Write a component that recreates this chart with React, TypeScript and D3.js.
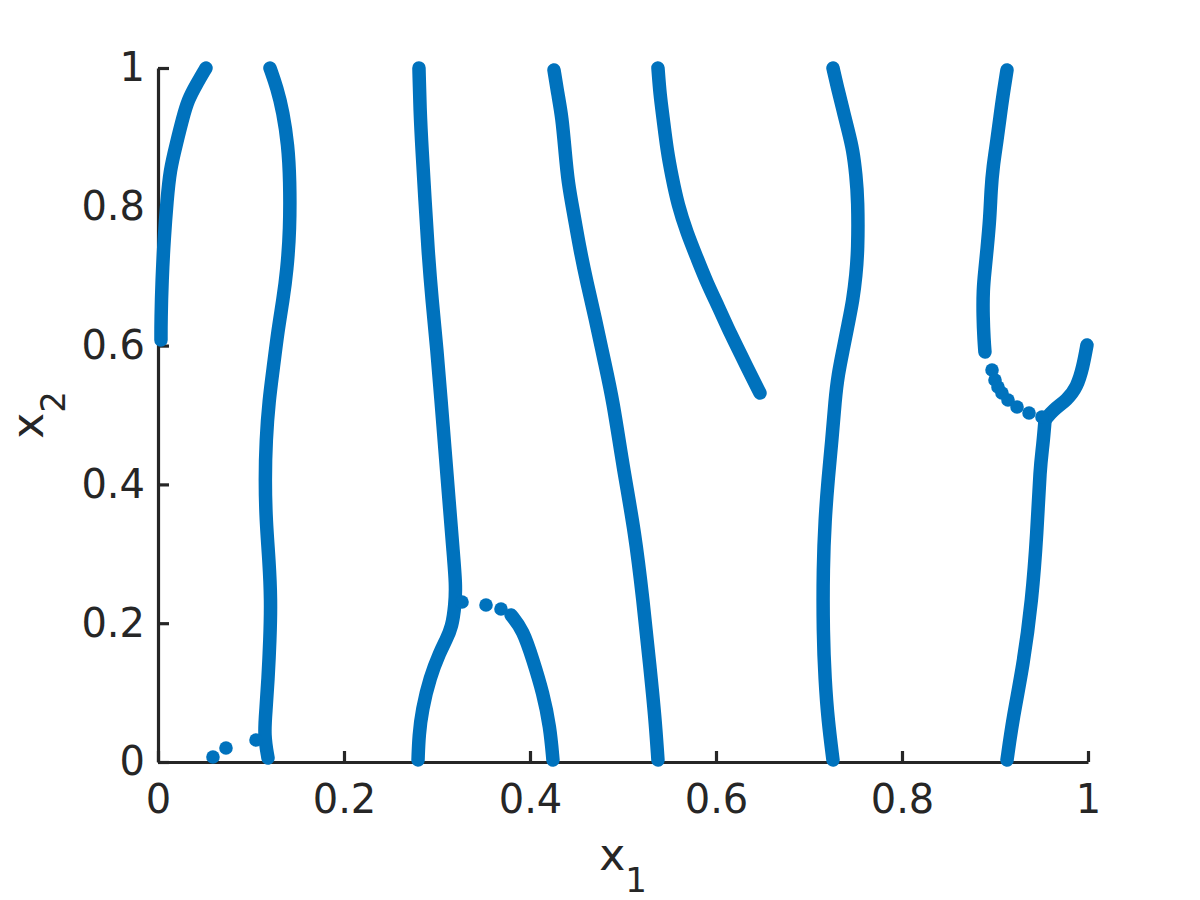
import { useEffect, useRef } from 'react'
import * as d3 from 'd3'

// each branch of the zero-level set as (x1, x2)
const BRANCH_A = [
  [0.0516, 1.0], [0.0409, 0.9755], [0.0323, 0.9539], [0.0269, 0.9294], [0.0194, 0.889],
  [0.0129, 0.853], [0.0097, 0.8098], [0.0065, 0.7522], [0.0043, 0.6945], [0.0032, 0.6369],
  [0.0032, 0.6081],
]
const BRANCH_B = [
  [0.1204, 1.0], [0.128, 0.9712], [0.1344, 0.9366], [0.1398, 0.889], [0.1419, 0.8386],
  [0.1419, 0.7666], [0.1387, 0.7089], [0.1344, 0.6657], [0.129, 0.6225], [0.1237, 0.5648],
  [0.1194, 0.5216], [0.1161, 0.464], [0.1151, 0.4063], [0.1161, 0.3487], [0.1194, 0.2911],
  [0.1215, 0.2334], [0.1204, 0.1758], [0.1183, 0.1182], [0.1161, 0.0749], [0.114, 0.0389],
  [0.1183, 0.0058],
]
const BRANCH_C = [
  [0.2806, 1.0], [0.2817, 0.9395], [0.2839, 0.8818], [0.2871, 0.8098], [0.2903, 0.7378],
  [0.2946, 0.6657], [0.3, 0.5937], [0.3043, 0.5216], [0.3086, 0.4496], [0.3129, 0.3775],
  [0.3172, 0.3055], [0.3204, 0.255], [0.3194, 0.2262], [0.3161, 0.1945], [0.3097, 0.1758],
  [0.3032, 0.1585], [0.2925, 0.1225], [0.2839, 0.0749], [0.2806, 0.0389], [0.2796, 0.0029],
]
const BRANCH_D = [
  [0.3796, 0.2118], [0.3925, 0.1902], [0.4032, 0.147], [0.414, 0.0994], [0.4215, 0.0504],
  [0.4247, 0.0029],
]
const BRANCH_E = [
  [0.4258, 0.9971], [0.4301, 0.9611], [0.4344, 0.9294], [0.4376, 0.8818], [0.4409, 0.8343],
  [0.4473, 0.7882], [0.4538, 0.7378], [0.4613, 0.6902], [0.4699, 0.6412], [0.4796, 0.5793],
  [0.4892, 0.5216], [0.5, 0.4251], [0.5129, 0.33], [0.5215, 0.2334], [0.529, 0.1369],
  [0.5344, 0.0648], [0.5376, 0.0029],
]
const BRANCH_F = [
  [0.5376, 1.0], [0.5398, 0.9611], [0.543, 0.9294], [0.5473, 0.8818], [0.5527, 0.8429],
  [0.5591, 0.8026], [0.5688, 0.7622], [0.5796, 0.7262], [0.5903, 0.6902], [0.6032, 0.6542],
  [0.6151, 0.6182], [0.6333, 0.5692], [0.6473, 0.5317],
]
const BRANCH_G = [
  [0.7258, 1.0], [0.7312, 0.9683], [0.7366, 0.9395], [0.7419, 0.9107], [0.7473, 0.8818],
  [0.7505, 0.8458], [0.7527, 0.8098], [0.7527, 0.7378], [0.7505, 0.7017], [0.7473, 0.6657],
  [0.7419, 0.6297], [0.7366, 0.5937], [0.7312, 0.5576], [0.728, 0.5216], [0.7247, 0.464],
  [0.7204, 0.4063], [0.7172, 0.3487], [0.7151, 0.281], [0.7151, 0.1859], [0.7172, 0.1182],
  [0.7204, 0.0605], [0.7258, 0.0029],
]
const BRANCH_H_TOP = [
  [0.9129, 0.9971], [0.9086, 0.9611], [0.9054, 0.9294], [0.9022, 0.8963], [0.8978, 0.8573],
  [0.8957, 0.8242], [0.8946, 0.7853], [0.8914, 0.7378], [0.8892, 0.7089], [0.8871, 0.6801],
  [0.8871, 0.6412], [0.8882, 0.6081], [0.8892, 0.5908],
]
const BRANCH_H_RIGHT = [
  [0.9538, 0.4928], [0.9624, 0.5072], [0.9774, 0.5216], [0.9882, 0.5403], [0.9946, 0.5692],
  [0.9989, 0.6009],
]
const BRANCH_H_LOW = [
  [0.9538, 0.4928], [0.9516, 0.4568], [0.9484, 0.4251], [0.9452, 0.33], [0.9398, 0.2334],
  [0.9301, 0.1369], [0.9194, 0.0648], [0.9129, 0.0029],
]

// sparse points that show up as separate dots
const LOOSE_DOTS = [
  [0.0591, 0.0072], [0.0731, 0.0202], [0.1054, 0.0317],
  [0.3269, 0.2305], [0.3527, 0.2262], [0.3688, 0.2205],
  [0.8968, 0.5648], [0.9, 0.5504], [0.9032, 0.5403], [0.9075, 0.5317], [0.914, 0.5216],
  [0.9237, 0.5115], [0.9366, 0.5029], [0.9505, 0.4971],
]

const BRANCHES = [
  BRANCH_A, BRANCH_B, BRANCH_C, BRANCH_D, BRANCH_E, BRANCH_F, BRANCH_G,
  BRANCH_H_TOP, BRANCH_H_RIGHT, BRANCH_H_LOW,
]

const X_TICKS = [0, 0.2, 0.4, 0.6, 0.8, 1]
const Y_TICKS = [0, 0.2, 0.4, 0.6, 0.8, 1]

const BLUE = '#0072BD'
const INK = '#262626'
const FONT = '"DejaVu Sans", sans-serif'

export default function App() {
  const svgRef = useRef<SVGSVGElement>(null)

  useEffect(() => {
    const W = 1200
    const H = 900
    const margin = { top: 68, right: 112, bottom: 138, left: 158 }
    const innerW = W - margin.left - margin.right
    const innerH = H - margin.top - margin.bottom

    const svg = d3.select(svgRef.current)
    svg.selectAll('*').remove()
    svg.attr('width', W).attr('height', H)

    const x = d3.scaleLinear().domain([0, 1]).range([0, innerW])
    const y = d3.scaleLinear().domain([0, 1]).range([innerH, 0])

    const g = svg.append('g').attr('transform', `translate(${margin.left},${margin.top})`)

    // Axes (drawn under the data, ticks point inwards)
    const fmt = d3.format('~g')
    const xAxis = g.append('g')
      .attr('transform', `translate(0,${innerH})`)
      .call(d3.axisBottom(x).tickValues(X_TICKS).tickFormat((d) => fmt(d as number))
        .tickSizeInner(-11).tickSizeOuter(0).tickPadding(23))
    const yAxis = g.append('g')
      .call(d3.axisLeft(y).tickValues(Y_TICKS).tickFormat((d) => fmt(d as number))
        .tickSizeInner(-11).tickSizeOuter(0).tickPadding(13))

    for (const ax of [xAxis, yAxis]) {
      ax.attr('font-family', FONT).attr('font-size', 40)
      ax.select('.domain').attr('stroke', INK).attr('stroke-width', 3.2)
      ax.selectAll('.tick line').attr('stroke', INK).attr('stroke-width', 3.2)
      ax.selectAll('.tick text').attr('fill', INK)
    }

    // Curves
    const line = d3.line<number[]>()
      .x((d) => x(d[0]))
      .y((d) => y(d[1]))
      .curve(d3.curveBasis)

    g.selectAll('path.branch')
      .data(BRANCHES)
      .join('path')
      .attr('class', 'branch')
      .attr('d', (d) => line(d))
      .attr('fill', 'none')
      .attr('stroke', BLUE)
      .attr('stroke-width', 13.5)
      .attr('stroke-linecap', 'round')
      .attr('stroke-linejoin', 'round')

    g.selectAll('circle.dot')
      .data(LOOSE_DOTS)
      .join('circle')
      .attr('class', 'dot')
      .attr('cx', (d) => x(d[0]))
      .attr('cy', (d) => y(d[1]))
      .attr('r', 6.8)
      .attr('fill', BLUE)

    // Axis labels
    const xl = g.append('text')
      .attr('x', innerW / 2)
      .attr('y', innerH + 108)
      .attr('text-anchor', 'middle')
      .attr('font-family', FONT)
      .attr('font-size', 44)
      .attr('fill', INK)
    xl.append('tspan').text('x')
    xl.append('tspan').attr('dy', 22).attr('font-size', 34).text('1')

    const yl = g.append('text')
      .attr('transform', `translate(${43 - margin.left},${innerH / 2}) rotate(-90)`)
      .attr('text-anchor', 'middle')
      .attr('font-family', FONT)
      .attr('font-size', 44)
      .attr('fill', INK)
    yl.append('tspan').text('x')
    yl.append('tspan').attr('dy', 22).attr('font-size', 34).text('2')

    return () => {
      svg.selectAll('*').remove()
    }
  }, [])

  return (
    <div style={{ position: 'absolute', left: 0, top: 0, width: 1200, height: 900, background: '#fff' }}>
      <svg ref={svgRef} style={{ display: 'block' }} />
    </div>
  )
}
